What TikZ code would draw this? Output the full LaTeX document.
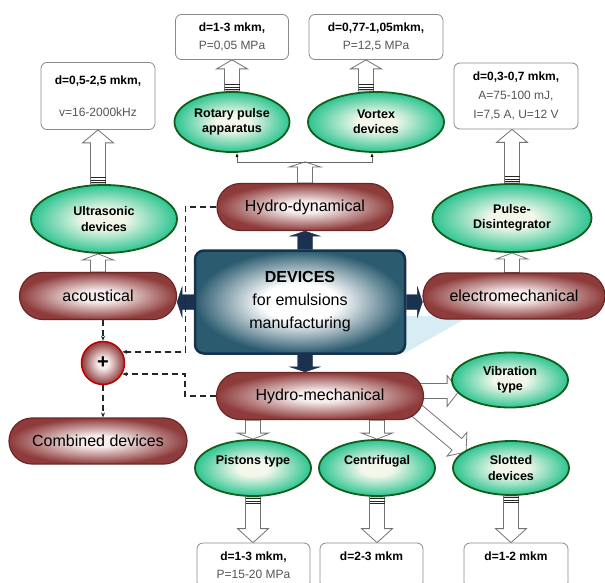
\documentclass[tikz,border=0pt]{standalone}
\usepackage{fontspec}
\setmainfont{Liberation Sans}
\usepackage{xcolor}
\usetikzlibrary{shapes.geometric, shapes.misc, arrows.meta, calc, backgrounds}

\definecolor{pillin}{HTML}{F8EDED}
\definecolor{pillout}{HTML}{8E3B3B}
\definecolor{pillborder}{HTML}{6B2626}
\definecolor{ellin}{HTML}{F2F7EA}
\definecolor{ellout}{HTML}{2DC491}
\definecolor{ellborder}{HTML}{135E1B}
\definecolor{devout}{HTML}{2B5B6F}
\definecolor{devborder}{HTML}{17324C}
\definecolor{navy}{HTML}{1A3150}
\definecolor{boxborder}{HTML}{8A8A8A}
\definecolor{txtgray}{HTML}{555555}
\definecolor{shadowblue}{HTML}{D7ECF3}
\definecolor{plusborder}{HTML}{C00000}

\pgfdeclareradialshading{pillshade}{\pgfpointorigin}{color(0bp)=(pillin); color(6bp)=(pillin); color(25bp)=(pillout); color(50bp)=(pillout)}
\pgfdeclareradialshading{ellshade}{\pgfpointorigin}{color(0bp)=(ellin); color(7bp)=(ellin); color(25bp)=(ellout); color(50bp)=(ellout)}
\pgfdeclareradialshading{devshade}{\pgfpointorigin}{color(0bp)=(white); color(9bp)=(white); color(25bp)=(devout); color(50bp)=(devout)}

\newcommand{\blockarrow}[6]{%
  \path #2 coordinate (ba) #3 coordinate (bb);
  \path ($(bb)!#4pt!(ba)$) coordinate (bc);
  \filldraw[#1] ($(ba)!#5pt!90:(bb)$) -- ($(bc)!#5pt!90:(bb)$) -- ($(bc)!#6pt!90:(bb)$) -- (bb)
    -- ($(bc)!#6pt!-90:(bb)$) -- ($(bc)!#5pt!-90:(bb)$) -- ($(ba)!#5pt!-90:(bb)$) -- cycle;
}
\newcommand{\hollowarrow}[3]{\blockarrow{holarrow}{#1}{#2}{#3}{7.5}{15.5}}
\newcommand{\navyarrow}[2]{\blockarrow{navyarr}{#1}{#2}{5}{7.5}{15}}
\newcommand{\arrowstripes}[2]{%
  \path #1 coordinate (sa) #2 coordinate (sb);
  \foreach \stripepos in {1.5,4,6.5} {
    \path ($(sa)!\stripepos pt!(sb)$) coordinate (sc);
    \draw[stripeline] ($(sc)!7.5pt!90:(sb)$) -- ($(sc)!7.5pt!-90:(sb)$);
  }%
}

\begin{document}
\begin{tikzpicture}[
    x=1pt, y=1pt,
    pill/.style={rounded rectangle, draw=pillborder, line width=1.2pt, shade, shading=pillshade, minimum height=47pt, inner sep=0pt, font=\fontsize{16}{19}\selectfont},
    ellnode/.style={ellipse, draw=ellborder, line width=1.8pt, shade, shading=ellshade, inner sep=0pt, align=center, font=\bfseries\fontsize{12.5}{15.5}\selectfont},
    infobox/.style={rectangle, rounded corners=6pt, draw=boxborder, line width=0.8pt, fill=white, inner sep=0pt, align=center, font=\fontsize{12}{18}\selectfont},
    devbox/.style={rectangle, rounded corners=9pt, draw=devborder, line width=2.5pt, shade, shading=devshade, minimum width=210pt, minimum height=103pt, align=center, font=\fontsize{16}{23}\selectfont},
    plusnode/.style={circle, draw=plusborder, line width=1.5pt, shade, shading=pillshade, minimum size=43pt, inner sep=0pt, font=\bfseries\fontsize{20}{20}\selectfont},
    holarrow/.style={fill=white, draw=black!55, line width=0.8pt},
    navyarr/.style={fill=navy, draw=navy, line width=0.4pt},
    stripeline/.style={black!85, line width=0.8pt},
    dashconn/.style={black!85, line width=1.3pt, dash pattern=on 6pt off 4pt, -{Stealth[length=5pt, width=4pt]}},
    thinconn/.style={black!60, line width=0.7pt, -{Latex[length=4pt, width=3pt, black]}}
]
\useasboundingbox (0,0) rectangle (605,-583);

\node (rotp)  [infobox, minimum width=113pt, minimum height=45pt] at (232,-37) {\textbf{d=1-3 mkm,}\\ \textcolor{txtgray}{P=0,05 MPa}};
\node (vortp) [infobox, minimum width=134pt, minimum height=45pt] at (376,-37) {\textbf{d=0,77-1,05mkm,}\\ \textcolor{txtgray}{P=12,5 MPa}};
\node (ultp)  [infobox, minimum width=114pt, minimum height=67pt, font=\fontsize{12}{16}\selectfont] at (98,-96) {\textbf{d=0,5-2,5 mkm,}\\[16pt] \textcolor{txtgray}{v=16-2000kHz}};
\node (pulp)  [infobox, minimum width=124pt, minimum height=66pt, font=\fontsize{12}{19}\selectfont] at (516,-96) {\textbf{d=0,3-0,7 mkm,}\\ \textcolor{txtgray}{A=75-100 mJ,}\\ \textcolor{txtgray}{I=7,5 A, U=12 V}};

\node (rot)  [ellnode, minimum width=115pt, minimum height=60pt] at (232,-122) {Rotary pulse\\apparatus};
\node (vort) [ellnode, minimum width=136pt, minimum height=60pt] at (376,-122) {Vortex\\devices};
\node (ult)  [ellnode, minimum width=146pt, minimum height=68pt] at (104,-219) {Ultrasonic\\devices};
\node (pul)  [ellnode, minimum width=159pt, minimum height=68pt] at (512,-218) {Pulse-\\Disintegrator};
\node (vib)  [ellnode, minimum width=116pt, minimum height=55pt] at (510,-380) {Vibration\\type};
\node (pist) [ellnode, minimum width=116pt, minimum height=56pt] at (253,-468) {Pistons type\\\mbox{}};
\node (cent) [ellnode, minimum width=116pt, minimum height=56pt] at (377,-468) {Centrifugal\\\mbox{}};
\node (slot) [ellnode, minimum width=116pt, minimum height=54pt] at (511,-468) {Slotted\\devices};

\node (hdyn)  [pill, minimum width=176pt] at (305,-207) {Hydro-dynamical};
\node (ac)    [pill, minimum width=157pt] at (98,-296) {acoustical};
\node (el)    [pill, minimum width=182pt, minimum height=46pt] at (514,-296) {electromechanical};
\node (hmech) [pill, minimum width=207pt] at (320,-396) {Hydro-mechanical};
\node (comb)  [pill, minimum width=178pt, minimum height=46pt] at (98,-441) {Combined devices};

\node (dev)  [devbox] at (300,-302) {\textbf{DEVICES}\\for emulsions\\manufacturing};
\node (plus) [plusnode] at (103,-363) {+};

\node (pistp) [infobox, minimum width=113pt, minimum height=45pt] at (253.5,-565.5) {\textbf{d=1-3 mkm,}\\ \textcolor{txtgray}{P=15-20 MPa}};
\node (centp) [infobox, minimum width=103pt, minimum height=45pt] at (371.5,-565.5) {\textbf{d=2-3 mkm}\\\mbox{}};
\node (slotp) [infobox, minimum width=104pt, minimum height=45pt] at (516,-565.5) {\textbf{d=1-2 mkm}\\\mbox{}};

\begin{scope}[on background layer]
\fill[shadowblue] (403,-316) -- (470,-316) -- (405,-353) -- (403,-353) -- cycle;

\navyarrow{($(dev.north)+(5,0)$)}{(hdyn.south)}
\navyarrow{($(dev.south)+(5,0)$)}{(hdyn.south |- hmech.north)}
\navyarrow{(dev.west)}{(ac.east |- dev.west)}
\navyarrow{(dev.east)}{(el.west |- dev.east)}

\hollowarrow{(ult.north -| ultp.south)}{(ultp.south)}{13}
\arrowstripes{(ult.north -| ultp.south)}{(ultp.south)}
\hollowarrow{(ac.north)}{(ac.north |- ult.south)}{6}
\hollowarrow{(rot.north)}{(rotp.south)}{9}
\arrowstripes{(rot.north)}{(rotp.south)}
\hollowarrow{($(vort.north)+(-10,0)$)}{($(vortp.south)+(-10,0)$)}{9}
\arrowstripes{($(vort.north)+(-10,0)$)}{($(vortp.south)+(-10,0)$)}
\hollowarrow{(pul.north)}{(pul.north |- pulp.south)}{13}
\arrowstripes{(pul.north)}{(pul.north |- pulp.south)}
\hollowarrow{(pul.south |- el.north)}{(pul.south)}{6}

\coordinate (fork) at ($(hdyn.north)+(0,21)$);
\hollowarrow{(hdyn.north)}{(fork)}{5}
\draw[thinconn] (fork) -| ($(rot.south)+(5,0)$);
\draw[thinconn] (fork) -| ($(vort.south)+(-4,0)$);

\hollowarrow{($(hmech.east)+(-6,5)$)}{($(vib.west)+(8,-11)$)}{12}
\hollowarrow{($(hmech.east)+(-8,-14)$)}{($(slot.west)+(14,16)$)}{12}
\hollowarrow{(pist.north |- hmech.south)}{(pist.north)}{6}
\hollowarrow{(cent.north |- hmech.south)}{(cent.north)}{6}
\hollowarrow{(pist.south)}{(pist.south |- pistp.north)}{14}
\arrowstripes{(pist.south)}{(pist.south |- pistp.north)}
\hollowarrow{(cent.south)}{(cent.south |- centp.north)}{14}
\arrowstripes{(cent.south)}{(cent.south |- centp.north)}
\hollowarrow{(slot.south)}{(slot.south |- slotp.north)}{14}
\arrowstripes{(slot.south)}{(slot.south |- slotp.north)}

\draw[dashconn] (hdyn.west) -- ++(-31,0) |- (plus.30);
\draw[dashconn] (hmech.west) -- ++(-31,0) |- (plus.-30);
\draw[dashconn] (plus.north |- ac.south) -- (plus.north);
\draw[dashconn] (plus.south) -- (plus.south |- comb.north);
\end{scope}

\end{tikzpicture}
\end{document}
